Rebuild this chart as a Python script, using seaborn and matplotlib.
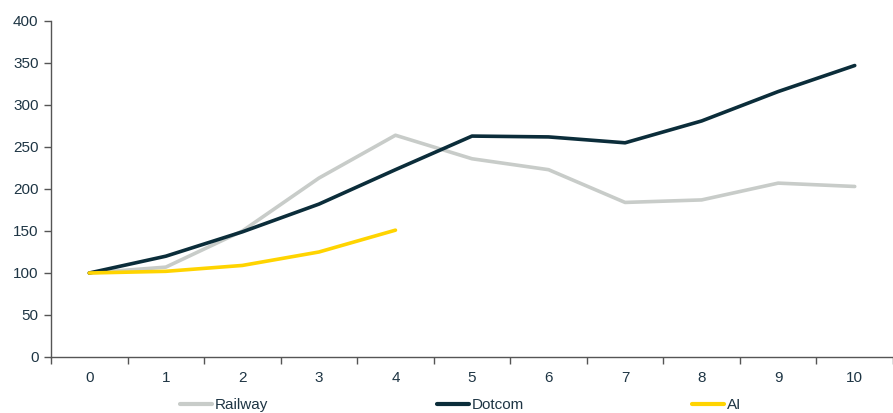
import matplotlib
matplotlib.use("Agg")
import matplotlib.pyplot as plt
import seaborn as sns
import pandas as pd
import numpy as np

periods = list(range(11))
railway = [100, 107, 150, 213, 264, 236, 223, 184, 187, 207, 203]
dotcom = [100, 120, 149, 182, 223, 263, 262, 255, 281, 316, 347]
ai = [100, 102, 109, 125, 151]

series_names = ["Railway", "Dotcom", "AI"]
colors = {"Railway": "#c8ccc9", "Dotcom": "#0b2d3a", "AI": "#ffd400"}

rows = []
for name, vals in zip(series_names, [railway, dotcom, ai]):
    for p, v in zip(periods, vals):
        rows.append({"period": p, "value": v, "series": name})
df = pd.DataFrame(rows)

sns.set_theme(style="white")
plt.rcParams['font.family'] = ['Liberation Sans', 'DejaVu Sans']
text_color = "#1e3544"

fig = plt.figure(figsize=(8.93, 4.13), dpi=100)
ax = fig.add_axes([51/893, 56/413, 1 - 51/893, (357-21)/413])

sns.lineplot(data=df, x="period", y="value", hue="series", hue_order=series_names,
             palette=colors, linewidth=2.6, ax=ax, legend=True, sort=False)

ax.set_xlim(-0.5, -0.5 + (893-51)/77)
ax.set_ylim(0, 400)
ax.set_yticks(range(0, 401, 50))
ax.set_xticks(periods)
ax.set_xticklabels([str(p) for p in periods])
ax.set_xticks(np.arange(-0.5, 11, 1), minor=True)
ax.tick_params(axis='x', which='major', length=0, pad=10, labelsize=11, labelcolor=text_color)
ax.tick_params(axis='x', which='minor', length=5, width=1, color="#555555", direction='out', bottom=True)
ax.tick_params(axis='y', which='major', length=5, width=1, color="#555555", direction='out', pad=4,
               labelsize=11, labelcolor=text_color, left=True)
ax.set_xlabel("")
ax.set_ylabel("")
for s in ["top", "right"]:
    ax.spines[s].set_visible(False)
for s in ["left", "bottom"]:
    ax.spines[s].set_color("#555555")
    ax.spines[s].set_linewidth(1)

handles, labels = ax.get_legend_handles_labels()
ax.get_legend().remove()
leg = fig.legend(handles, labels, loc="center left", bbox_to_anchor=(180/893, 8/413),
                 ncol=3, frameon=False, fontsize=11, handlelength=2.1, handletextpad=0.2,
                 columnspacing=11.0, borderpad=0, borderaxespad=0)
for t in leg.get_texts():
    t.set_color(text_color)
for l in leg.get_lines():
    l.set_linewidth(3)

fig.savefig("out.png", dpi=100)
